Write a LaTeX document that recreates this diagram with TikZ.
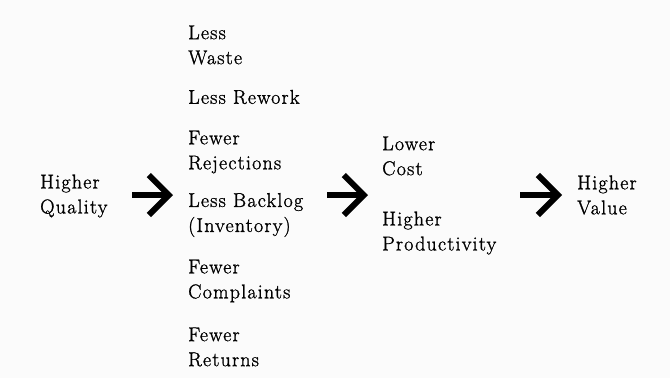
\documentclass[tikz,border=0pt]{standalone}
\usepackage{fontspec}
\usetikzlibrary{arrows.meta}

\newfontfamily\labelfont{Latin Modern Roman}[FakeBold=1.2, LetterSpace=6]

\begin{document}
\begin{tikzpicture}[x=1pt, y=-1pt,
  every node/.style = {anchor=west, align=left, inner sep=0pt,
                       font=\labelfont\fontsize{20}{25}\selectfont},
  bigarrow/.style = {line width=6pt, -{Straight Barb[length=20pt, width=40pt]}},
  ]
  \fill[gray!3] (0,0) rectangle (670,378);
  \useasboundingbox (0,0) rectangle (670,378);

  % cause
  \node (quality) at (40,196) {Higher\\Quality};

  % direct effects
  \node (waste)      at (188,45)  {Less\\Waste};
  \node (rework)     at (188,97)  {Less Rework};
  \node (rejections) at (188,152) {Fewer\\Rejections};
  \node (backlog)    at (188,215) {Less Backlog\\(Inventory)};
  \node (complaints) at (188,281) {Fewer\\Complaints};
  \node (returns)    at (188,347) {Fewer\\Returns};

  % results
  \node (cost)         at (382,156) {Lower\\Cost};
  \node (productivity) at (382,233) {Higher\\Productivity};
  \node (value)        at (577,195) {Higher\\Value};

  % arrow ends
  \coordinate (a1) at (132,195); \coordinate (b1) at (173,195);
  \coordinate (a2) at (327,195); \coordinate (b2) at (368,195);
  \coordinate (a3) at (520,195); \coordinate (b3) at (562,195);

  \draw[bigarrow] (a1) -- (b1);
  \draw[bigarrow] (a2) -- (b2);
  \draw[bigarrow] (a3) -- (b3);
\end{tikzpicture}
\end{document}
